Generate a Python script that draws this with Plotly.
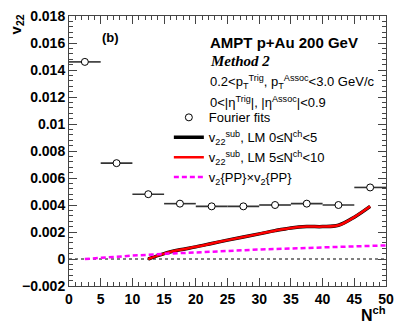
import plotly.graph_objects as go

# Fourier fit points (N^ch bin centres, half width 2.5)
fit_x = [2.5, 7.5, 12.5, 17.5, 22.5, 27.5, 32.5, 37.5, 42.5, 47.5]
fit_y = [0.0146, 0.0071, 0.0048, 0.0041, 0.0039, 0.0039, 0.0040, 0.0041, 0.0040, 0.0053]
fit_xerr = [2.5] * len(fit_x)

# subtracted v22 curves
sub_x = [12.5, 15, 17.5, 20, 22.5, 25, 27.5, 30, 32.5, 35, 37.5, 40, 42.5, 45, 47.5]
sub0_y = [0.0000, 0.0004, 0.00068, 0.0009, 0.00115, 0.0014, 0.00163, 0.00186, 0.0021, 0.0023, 0.0024, 0.0024, 0.0025, 0.0031, 0.0039]
sub5_y = [0.0000, 0.0004, 0.00068, 0.0009, 0.00115, 0.0014, 0.00163, 0.00186, 0.0021, 0.0023, 0.0024, 0.0024, 0.0025, 0.0031, 0.0039]

# v2{PP} x v2{PP}
pp_x = [2.5, 5, 10, 15, 20, 25, 30, 35, 40, 45, 50]
pp_y = [0.0, 0.0001, 0.00025, 0.00038, 0.0005, 0.0006, 0.0007, 0.00078, 0.00085, 0.00093, 0.00101]

fig = go.Figure()

fig.add_trace(go.Scatter(
    x=fit_x, y=fit_y, mode='markers', name='Fourier fits',
    marker=dict(symbol='circle', size=7, color='white', line=dict(color='black', width=1)),
    error_x=dict(type='data', array=fit_xerr, width=0, color='#333333', thickness=1.6),
))
fig.add_trace(go.Scatter(
    x=sub_x, y=sub0_y, mode='lines', line=dict(color='black', width=3.5, shape='spline'),
    name='v<sub>22</sub><sup>sub</sup>, LM 0≤N<sup>ch</sup><5',
))
fig.add_trace(go.Scatter(
    x=sub_x, y=sub5_y, mode='lines', line=dict(color='red', width=2.5, shape='spline'),
    name='v<sub>22</sub><sup>sub</sup>, LM 5≤N<sup>ch</sup><10',
))
fig.add_trace(go.Scatter(
    x=pp_x, y=pp_y, mode='lines', line=dict(color='#ff00ff', width=2.5, dash='5px,3px'),
    name='v<sub>2</sub>{PP}×v<sub>2</sub>{PP}',
))

# dotted zero line
fig.add_shape(type='line', xref='paper', x0=0, x1=1, yref='y', y0=0, y1=0,
              line=dict(color='black', width=1, dash='dot'), layer='below')

axis_common = dict(
    showgrid=False, zeroline=False, showline=True, linecolor='#444444', linewidth=1,
    mirror='allticks', ticks='inside', ticklen=8, tickcolor='#444444',
    ticklabeloverflow='allow', automargin=False,
    tickfont=dict(family='Liberation Sans', size=14, color='black', weight='bold'),
)
fig.update_xaxes(range=[0, 50.0001], dtick=5, tick0=0,
                 minor=dict(dtick=1, ticks='inside', ticklen=4, tickcolor='#444444'),
                 **axis_common)
fig.update_yaxes(range=[-0.002, 0.0180001], dtick=0.002, tick0=0,
                 minor=dict(dtick=0.0004, ticks='inside', ticklen=4, tickcolor='#444444'),
                 **axis_common)

txt = dict(family='Liberation Sans', size=13, color='black')
ann = [
    dict(x=0.097, y=0.92, text='<b>(b)</b>', font=dict(family='Liberation Sans', size=13)),
    dict(x=0.44, y=0.90, text='<b>AMPT p+Au 200 GeV</b>', font=dict(family='Liberation Sans', size=15)),
    dict(x=0.44, y=0.832, text='<b><i>Method 2</i></b>', font=dict(family='Liberation Serif', size=15)),
    dict(x=0.44, y=0.756, text='0.2<p<sub>T</sub><sup>Trig</sup>, p<sub>T</sub><sup>Assoc</sup><3.0 GeV/c', font=txt),
    dict(x=0.44, y=0.68, text='0<|η<sup>Trig</sup>|, |η<sup>Assoc</sup>|<0.9', font=txt),
]
for a in ann:
    a.update(xref='paper', yref='paper', xanchor='left', yanchor='middle', showarrow=False)
    a['font'].setdefault('color', 'black')
    fig.add_annotation(**a)

fig.add_annotation(xref='paper', yref='paper', x=-0.165, y=1.012, xanchor='center', yanchor='top',
                   text='<b>v<sub>22</sub></b>', textangle=-90, showarrow=False,
                   font=dict(family='Liberation Sans', size=15, color='black'))
fig.add_annotation(xref='paper', yref='paper', x=1.005, y=-0.058, xanchor='right', yanchor='top',
                   text='<b>N<sup>ch</sup></b>', showarrow=False,
                   font=dict(family='Liberation Sans', size=16, color='black'))

# page body adds an 8px offset, so the figure is 8px smaller and margins compensate
fig.update_layout(
    width=399, height=315,
    margin=dict(l=61, r=21, t=8, b=37),
    plot_bgcolor='white', paper_bgcolor='white',
    showlegend=True,
    legend=dict(x=0.315, y=0.68, xanchor='left', yanchor='top', bgcolor='rgba(0,0,0,0)',
                font=txt, tracegroupgap=0, itemwidth=30),
)

fig.write_html("out.html")
